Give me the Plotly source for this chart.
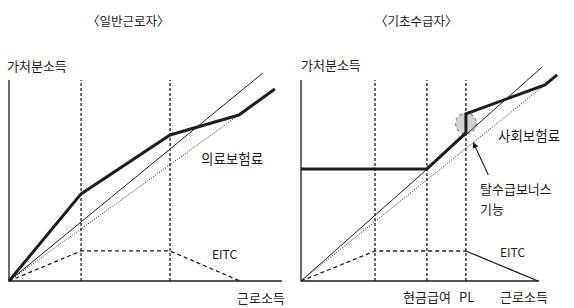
import plotly.graph_objects as go

# ---------------- data (arbitrary income units) ----------------
# Left panel: 일반근로자
L_axis_x_end = 100.0
L_axis_y_end = 73.6
L_guides = [26.4, 59.0]                     # vertical dashed guide lines
L_thick_x = [0, 26.4, 59.0, 84.2, 97.4]     # disposable income (bold)
L_thick_y = [0, 31.9, 53.5, 60.8, 70.3]
L_thin_x = [0, 93.0]                        # 45-degree reference
L_thin_y = [0, 76.2]
L_dot_x = [0, 84.2]                         # after health insurance
L_dot_y = [0, 60.8]
L_eitc_x = [0, 26.4, 59.0, 84.6]
L_eitc_y = [0, 11.0, 11.0, 0]

# Right panel: 기초수급자
R_axis_x_end = 100.0
R_axis_y_end = 84.5
R_guides = [31.1, 52.9, 69.3]
R_thick_x = [0, 52.9, 69.3, 69.3, 102.5, 107.6]
R_thick_y = [47.1, 47.1, 62.2, 70.2, 82.4, 86.6]
R_thin_x = [0, 101.3]
R_thin_y = [0, 89.9]
R_dot_x = [0, 102.5]
R_dot_y = [0, 82.4]
R_eitc_dash_x = [0, 31.1, 69.3]
R_eitc_dash_y = [0, 12.6, 12.6]
R_eitc_solid_x = [69.3, 99.6]
R_eitc_solid_y = [12.6, 0]

INK = "#1e1e1e"
FONT = "Noto Sans CJK KR"

fig = go.Figure()


def line(x, y, xa, ya, width, dash="solid", color=INK):
    fig.add_trace(go.Scatter(x=x, y=y, xaxis=xa, yaxis=ya, mode="lines",
                             line=dict(color=color, width=width, dash=dash),
                             hoverinfo="skip", showlegend=False))


# ---- left panel ----
for g in L_guides:
    line([g, g], [0, L_axis_y_end], "x", "y", 1.3, "3px,2px")
line(L_eitc_x, L_eitc_y, "x", "y", 1.3, "4px,3px")
line(L_dot_x, L_dot_y, "x", "y", 1.0, "1px,1.5px")
line(L_thin_x, L_thin_y, "x", "y", 1.0)
line(L_thick_x, L_thick_y, "x", "y", 3.0)
line([0, 0, L_axis_x_end], [L_axis_y_end, 0, 0], "x", "y", 1.3)

# ---- right panel ----
for g in R_guides:
    line([g, g], [0, R_axis_y_end], "x2", "y2", 1.3, "3px,2px")
line(R_eitc_dash_x, R_eitc_dash_y, "x2", "y2", 1.3, "4px,3px")
line(R_eitc_solid_x, R_eitc_solid_y, "x2", "y2", 1.3)
line(R_dot_x, R_dot_y, "x2", "y2", 1.0, "1px,1.5px")
line(R_thin_x, R_thin_y, "x2", "y2", 1.0)
line(R_thick_x, R_thick_y, "x2", "y2", 3.0)
line([0, 0, R_axis_x_end], [R_axis_y_end, 0, 0], "x2", "y2", 1.3)

# highlight circle around the benefit cliff (centered at PL, mid of jump)
pl = R_thick_x[2]
cy = (R_thick_y[2] + R_thick_y[3]) / 2
rx, ry = 4.4, 4.4
fig.add_shape(type="circle", xref="x2", yref="y2",
              x0=pl - rx, x1=pl + rx, y0=cy - ry, y1=cy + ry,
              fillcolor="#d2d2d2", line=dict(color="#8a8a8a", width=1.2, dash="dot"),
              layer="below")

# ---------------- layout / axes ----------------
# left: origin at px (9,281), 2.73 px per unit ; right: origin (301,281), 2.38 px per unit
W, H = 574, 308
sxL, sxR = 2.73, 2.38
fig.update_layout(
    width=W, height=H, margin=dict(l=0, r=0, t=0, b=0),
    paper_bgcolor="white", plot_bgcolor="rgba(0,0,0,0)",
    font=dict(family=FONT, color=INK, size=13),
    xaxis=dict(domain=[0, 0.5], range=[-9 / sxL, (287 - 9) / sxL], visible=False, fixedrange=True),
    yaxis=dict(domain=[0, 1], range=[(281 - H) / sxL, 281 / sxL], visible=False, fixedrange=True),
    xaxis2=dict(domain=[0.5, 1], range=[(287 - 301) / sxR, (W - 301) / sxR], visible=False, fixedrange=True),
    yaxis2=dict(domain=[0, 1], range=[(281 - H) / sxR, 281 / sxR], visible=False, fixedrange=True),
)


def txt(x, y, s, xref, yref, size=13, xanchor="center", align="center"):
    fig.add_annotation(x=x, y=y, xref=xref, yref=yref, text=s, showarrow=False,
                       font=dict(size=size, family=FONT, color=INK),
                       xanchor=xanchor, yanchor="middle", align=align)


# titles
txt(128 / W, 1 - 20 / H, "〈일반근로자〉", "paper", "paper", size=12.5)
txt(416 / W, 1 - 20 / H, "〈기초수급자〉", "paper", "paper", size=12.5)

# left labels
txt(10.4, 79.1, "가처분소득", "x", "y")
txt(81.7, 45.1, "의료보험료", "x", "y", size=13.5)
txt(79.1, 9.9, "EITC", "x", "y", size=12)
txt(92.3, -5.9, "근로소득", "x", "y")

# right labels
txt(-0.8, 90.8, "가처분소득", "x2", "y2", xanchor="left")
txt(96.0, 61.3, "사회보험료", "x2", "y2", size=13.5)
txt(88.7, 12.2, "EITC", "x2", "y2", size=12)
txt(52.9, -6.7, "현금급여", "x2", "y2")
txt(69.7, -6.7, "PL", "x2", "y2")
txt(93.5, -6.7, "근로소득", "x2", "y2")
txt(74.2, 38.7, "탈수급보너스", "x2", "y2", xanchor="left")
txt(74.2, 30.3, "기능", "x2", "y2", xanchor="left")

# arrow from the bonus label to the cliff
fig.add_annotation(x=72.3, y=58.4, xref="x2", yref="y2",
                   ax=79.0, ay=43.9, axref="x2", ayref="y2",
                   text="", showarrow=True, arrowhead=2, arrowsize=1.1,
                   arrowwidth=1.1, arrowcolor=INK)

fig.write_html("out.html", config={"displayModeBar": False},
               post_script="document.body.style.margin='0';document.body.style.overflow='hidden';")
